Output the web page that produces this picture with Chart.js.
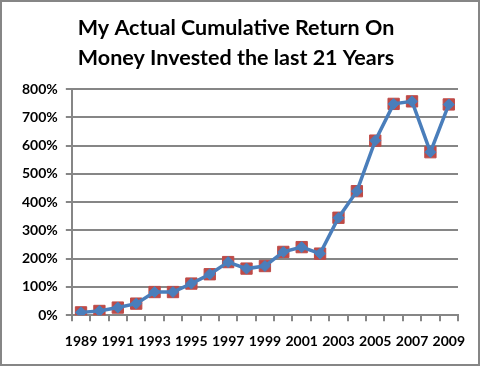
<!DOCTYPE html>
<html>
<head>
<meta charset="utf-8">
<script src="https://cdn.jsdelivr.net/npm/chart.js@4/dist/chart.umd.min.js"></script>
<style>
    body { margin: 0; background: #fff; }
    .chart-wrap {
        width: 480px;
        height: 366px;
        box-sizing: border-box;
        border: 2px solid #868686;
        position: relative;
    }
    canvas { display: block; }
</style>
</head>
<body>
<div class="chart-wrap">
    <canvas id="graphic" width="476" height="362"></canvas>
</div>
<script>
    // Data
    let years = ["1989", "1990", "1991", "1992", "1993", "1994", "1995", "1996", "1997", "1998", "1999",
        "2000", "2001", "2002", "2003", "2004", "2005", "2006", "2007", "2008", "2009"];
    let returnValues = [10, 15, 27, 41, 82, 82, 112, 145, 188, 165, 174,
        224, 241, 218, 345, 439, 618, 748, 757, 577, 746];
    let yTicks = [0, 100, 200, 300, 400, 500, 600, 700, 800];

    let gridGrey = "#868686";
    let tickFont = { family: "'Lato', 'Open Sans', sans-serif", size: 14, weight: "bold" };

    new Chart(document.getElementById("graphic").getContext("2d"), {
        type: "line",
        data: {
            labels: years,
            datasets: [{
                label: "Return (line)",
                data: returnValues,
                borderColor: "#4A7EBB",
                borderWidth: 3.5,
                pointStyle: "rectRot",
                pointRadius: 5.5,
                pointBackgroundColor: "#4A7EBB",
                pointBorderColor: "#4A7EBB",
                pointBorderWidth: 1,
                tension: 0,
                order: 1
            }, {
                label: "Return (marker)",
                data: returnValues,
                showLine: false,
                pointStyle: "rect",
                pointRadius: 8,
                pointBackgroundColor: "#BE4B48",
                pointBorderColor: "#BE4B48",
                order: 2
            }]
        },
        options: {
            responsive: false,
            animation: false,
            layout: { padding: { left: 12, right: 20, top: 4, bottom: 2 } },
            plugins: {
                legend: { display: false },
                tooltip: { enabled: false },
                title: {
                    display: true,
                    text: ["My Actual Cumulative Return On", "Money Invested the last 21 Years"],
                    color: "#000",
                    font: { family: "'Lato', 'Open Sans', sans-serif", size: 21.5, weight: "bold", lineHeight: 1.4 },
                    padding: { top: 7, bottom: 16 }
                }
            },
            scales: {
                x: {
                    offset: true,
                    grid: {
                        offset: true,
                        drawOnChartArea: false,
                        drawTicks: true,
                        tickLength: 6,
                        color: gridGrey,
                        lineWidth: 2
                    },
                    border: { color: gridGrey, width: 2 },
                    ticks: {
                        autoSkip: false,
                        maxRotation: 0,
                        color: "#000",
                        font: tickFont,
                        padding: 12,
                        callback: function (value, index) {
                            return index % 2 === 0 ? years[index] : "";
                        }
                    }
                },
                y: {
                    min: yTicks[0],
                    max: yTicks[yTicks.length - 1],
                    afterBuildTicks: function (axis) {
                        axis.ticks = yTicks.map(function (v) { return { value: v }; });
                    },
                    grid: {
                        color: gridGrey,
                        lineWidth: 2,
                        tickLength: 6
                    },
                    border: { color: gridGrey, width: 2 },
                    ticks: {
                        color: "#000",
                        font: tickFont,
                        padding: 8,
                        callback: function (value) {
                            return value + "%";
                        }
                    }
                }
            }
        }
    });
</script>
</body>
</html>
